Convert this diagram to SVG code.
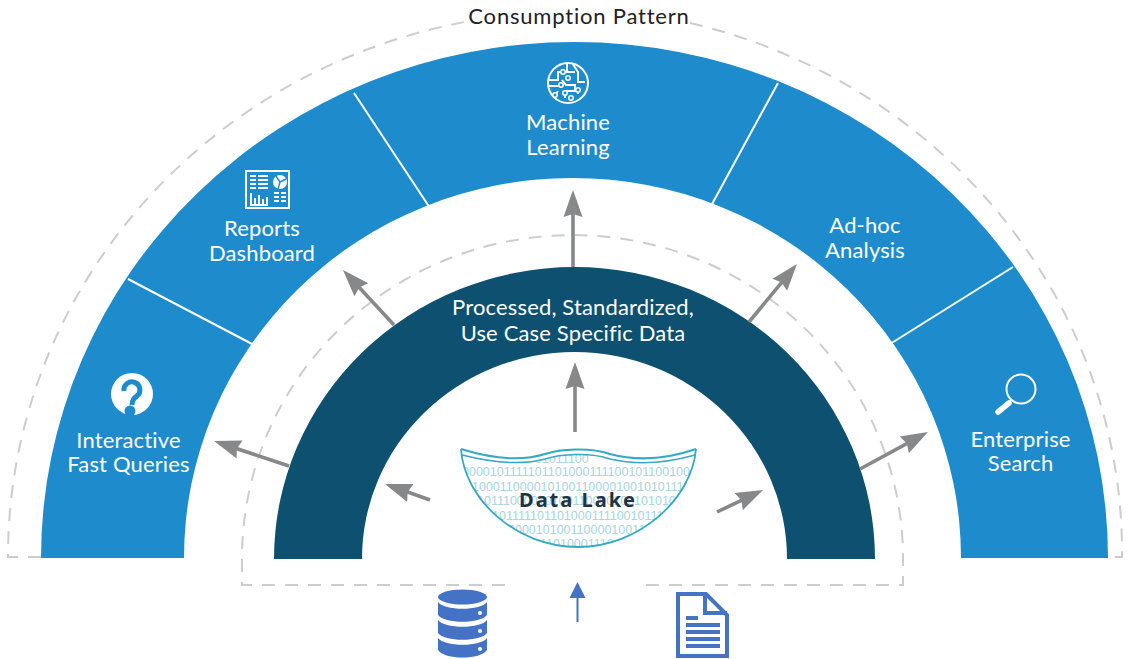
<svg xmlns="http://www.w3.org/2000/svg" width="1132" height="659" viewBox="0 0 1132 659">
<style>
.lbl{font-family:"Lato","Noto Sans",sans-serif;font-size:22px;fill:#fff;text-anchor:middle;letter-spacing:.15px}
.dash{fill:none;stroke:#cdcdcd;stroke-width:2;stroke-dasharray:13 10}
.arrow{stroke:#87888a;stroke-width:3.6;fill:none;marker-end:url(#ah)}
.sep{stroke:#fff;stroke-width:2}
.bin{font-family:"Liberation Sans",sans-serif;font-size:12.5px;fill:#aad3df}
.ic{fill:none;stroke:#fff;stroke-width:2}
.icf{fill:#fff}
.bl{fill:#4472c4}
</style>
<defs>
<marker id="ah" markerUnits="userSpaceOnUse" markerWidth="30" markerHeight="22" refX="17" refY="11" orient="auto"><path d="M0 1.500L27 11L0 20.500L3 11Z" fill="#87888a"/></marker>
<clipPath id="bowl"><path d="M462 455C490 462 520 466 545 459C560 454 590 452 610 459C640 466 670 462 695 455C692 500 640 547 578 547C515 547 465 500 462 455Z"/></clipPath>
</defs>
<g id="guides">
<path class="dash" d="M41 557H8A566.500 545 0 0 1 470 21"/>
<path class="dash" d="M690 23A566.500 545 0 0 1 1122 557H1108"/>
<path class="dash" d="M505 585H242V558A330.500 323 0 0 1 903 558V585H640"/>
</g>
<g id="consumption-band">
<path d="M41 558A533.500 516 0 0 1 1108 558H961A388.500 380 0 0 0 184 558Z" fill="#1e8bcd"/>
<line class="sep" x1="128" y1="279" x2="254" y2="345"/>
<line class="sep" x1="354" y1="93" x2="430" y2="208"/>
<line class="sep" x1="778" y1="83" x2="711" y2="206"/>
<line class="sep" x1="1013" y1="267" x2="890" y2="344"/>
</g>
<g id="processed-band">
<path d="M274 559A300.500 292 0 0 1 875 559H787A212.500 207 0 0 0 362 559Z" fill="#0e5070"/>
<text class="lbl" x="573" y="315">Processed, Standardized,</text>
<text class="lbl" x="573" y="341">Use Case Specific Data</text>
</g>
<text x="579" y="24" font-family="Lato,'Noto Sans',sans-serif" font-size="22" letter-spacing=".8" fill="#222" text-anchor="middle">Consumption Pattern</text>
<g id="connectors">
<path class="arrow" d="M289 466L223.500 444.200"/>
<path class="arrow" d="M394 325L349.800 277.300"/>
<path class="arrow" d="M573 267V200"/>
<path class="arrow" d="M749 322L790.600 271.700"/>
<path class="arrow" d="M860 469L919.200 436.800"/>
<path class="arrow" d="M575 432V372"/>
<path class="arrow" d="M430 500L394.400 487.300"/>
<path class="arrow" d="M717 512L754 494.300"/>
<path d="M577.500 622V590" stroke="#4472c4" stroke-width="2" fill="none"/>
<path class="bl" d="M569.500 598L577.500 582L585.500 598Z"/>
</g>
<g id="interactive">
<circle class="icf" cx="132" cy="394" r="21"/>
<path d="M124 391A8 8 0 1 1 137 396Q132 399 132 405" fill="none" stroke="#1e8bcd" stroke-width="5"/>
<circle cx="130" cy="411" r="5.500" fill="#1e8bcd"/>
<text class="lbl" x="128.500" y="448">Interactive</text>
<text class="lbl" x="128.500" y="472">Fast Queries</text>
</g>
<g id="reports">
<rect class="ic" x="246" y="171" width="43" height="37"/>
<path class="ic" stroke-width="1.800" d="M250 176H256M258 176H268M250 180H256M258 180H268M250 184H256M258 184H268M250 188H256M258 188H268M251 193V204M255 198V204M259 195V204M263 199V204M267 197V204M250 205H268M274 193H279M281 193H286M274 197H279M281 197H286M274 201H279M281 201H286"/>
<circle class="icf" cx="280" cy="182" r="7"/>
<path d="M280 182L286 179M280 182L278 189M280 182L276 176" stroke="#1e8bcd" stroke-width="1.400"/>
<text class="lbl" x="262" y="236">Reports</text>
<text class="lbl" x="262" y="261">Dashboard</text>
</g>
<g id="machine">
<circle class="ic" cx="568" cy="83" r="20"/>
<path class="ic" stroke-width="1.500" d="M549 80H558V72H562M567 64V72H575M572 63L578 72V82H585M548 86H560M562 80L566 85H575V91H565V98M558 91L554 96M578 88V94M568 76V80M570 100V96"/>
<g fill="#1e8bcd" stroke="#fff" stroke-width="1.500"><circle cx="563" cy="72" r="2.200"/><circle cx="568" cy="78" r="2.200"/><circle cx="561" cy="85" r="2.200"/><circle cx="555" cy="95" r="2.200"/><circle cx="565" cy="93" r="2.200"/><circle cx="578" cy="90" r="2.200"/><circle cx="571" cy="98" r="2.200"/></g>
<text class="lbl" x="568" y="130">Machine</text>
<text class="lbl" x="568" y="155">Learning</text>
</g>
<g id="adhoc">
<text class="lbl" x="865" y="233">Ad-hoc</text>
<text class="lbl" x="865" y="258">Analysis</text>
</g>
<g id="search">
<circle class="ic" cx="1021" cy="389" r="14.500"/>
<path d="M998 412L1009 403" stroke="#fff" stroke-width="5.500" stroke-linecap="round"/>
<path d="M1009 403L1011 400" stroke="#fff" stroke-width="2"/>
<text class="lbl" x="1020.500" y="447">Enterprise</text>
<text class="lbl" x="1020.500" y="471">Search</text>
</g>
<g id="data-lake">
<g clip-path="url(#bowl)" class="bin">
<text x="535" y="463">01011100</text>
<text x="462" y="476">0000101111101101000111100101100100</text>
<text x="472" y="491">10001100001010011000010010101111</text>
<text x="477" y="505">1011100001010011000010010101011</text>
<text x="492" y="520">10111110110100011110010111</text>
<text x="508" y="534">00001010011000010011</text>
<text x="540" y="548">11010001110</text>
</g>
<path d="M461 449C490 458 520 462 545 454C560 449 590 447 610 454C640 462 670 458 696 449" fill="none" stroke="#36a9c1" stroke-width="2"/>
<path d="M462 455C490 462 520 466 545 459C560 454 590 452 610 459C640 466 670 462 695 455" fill="none" stroke="#36a9c1" stroke-width="1.500"/>
<path d="M461 449C464 498 515 547 578 547C640 547 692 498 696 449" fill="none" stroke="#36a9c1" stroke-width="1.800"/>
<text x="578" y="507" font-family="'Noto Sans',sans-serif" font-weight="700" font-size="20" letter-spacing="2" fill="#1f3347" text-anchor="middle">Data Lake</text>
</g>
<g id="database">
<ellipse class="bl" cx="462.500" cy="597" rx="24.500" ry="7.500"/>
<path class="bl" d="M438 602C444 611 481 611 487 602V615C481 624 444 624 438 615Z"/>
<path class="bl" d="M438 620C444 629 481 629 487 620V633C481 642 444 642 438 633Z"/>
<path class="bl" d="M438 638C444 647 481 647 487 638V650C481 660 444 660 438 650Z"/>
<circle cx="480" cy="613" r="2" fill="#fff"/><circle cx="480" cy="631" r="2" fill="#fff"/><circle cx="480" cy="649" r="2" fill="#fff"/>
</g>
<g id="document">
<path d="M678 594H706L727 615V656H678Z" fill="none" stroke="#4472c4" stroke-width="4"/>
<path d="M705 593V613H727" fill="none" stroke="#4472c4" stroke-width="4"/>
<path class="bl" d="M686 616H698V620H686ZM686 623H720V627H686ZM686 630H720V634H686ZM686 637H720V641H686ZM686 644H720V648H686Z"/>
</g>
</svg>
